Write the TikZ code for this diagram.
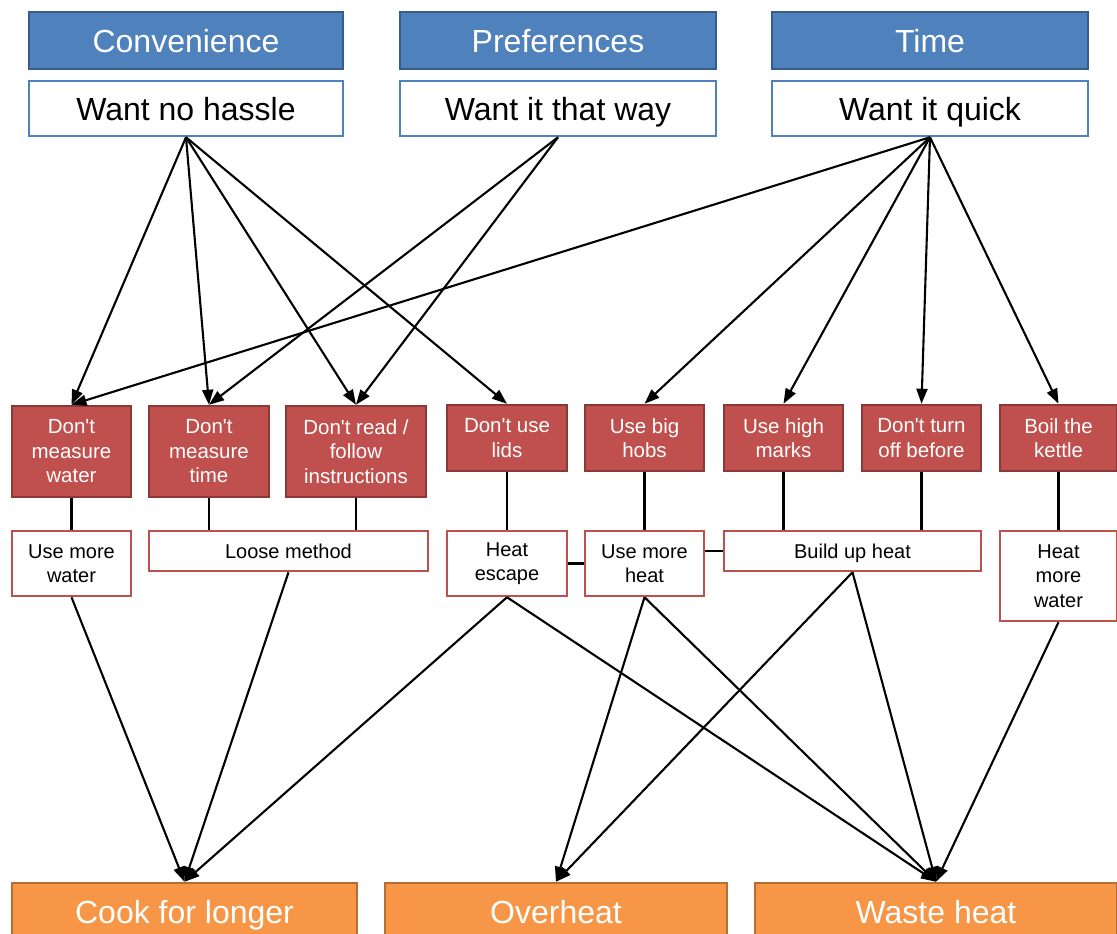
\documentclass[tikz,border=0pt]{standalone}
\usepackage{fontspec}
\setmainfont{Liberation Sans}[Ligatures=TeXOff]
\usetikzlibrary{arrows.meta}

\definecolor{hdrblue}{HTML}{4F81BD}
\definecolor{hdrblueedge}{HTML}{385D8A}
\definecolor{causered}{HTML}{C0504D}
\definecolor{causerededge}{HTML}{8C3836}
\definecolor{effectorange}{HTML}{F79646}
\definecolor{effectorangeedge}{HTML}{B66D31}

\tikzset{
  oneline/.style={text height=23.5pt, text depth=0pt},
  header/.style={draw=hdrblueedge, fill=hdrblue, line width=2.5pt, text=white,
    inner sep=0pt, oneline, font=\fontsize{32}{36}\selectfont},
  motive/.style={draw=hdrblue, fill=white, line width=2.5pt, text=black,
    inner sep=0pt, oneline, font=\fontsize{32}{36}\selectfont},
  habit/.style={draw=causerededge, fill=causered, line width=2.5pt, text=white,
    inner sep=0pt, align=center, minimum width=119pt,
    font=\fontsize{20.5}{24.5}\selectfont},
  result/.style={draw=causered, fill=white, line width=2.5pt, text=black,
    inner sep=0pt, align=center, font=\fontsize{20}{24.5}\selectfont},
  flatresult/.style={result, text height=14.5pt, text depth=0pt},
  outcome/.style={draw=effectorangeedge, fill=effectorange, line width=2.5pt, text=white,
    inner sep=0pt, minimum height=58pt, oneline, font=\fontsize{32}{36}\selectfont},
  leads/.style={line width=2.1pt, -{Triangle[length=15pt,width=11pt]}},
  joins/.style={line width=2.4pt},
}

\begin{document}
\begin{tikzpicture}[x=1pt, y=-1pt]
\clip (0,0) rectangle (1117,934);
\fill[white] (0,0) rectangle (1117,934);

% motivations
\node[header, minimum width=314pt, minimum height=57pt] (conv) at (186,40.5) {Convenience};
\node[header, minimum width=316pt, minimum height=57pt] (pref) at (558,40.5) {Preferences};
\node[header, minimum width=316pt, minimum height=57pt] (time) at (930,40.5) {Time};
\node[motive, minimum width=314pt, minimum height=55pt] (hassle) at (186,108.5) {Want no hassle};
\node[motive, minimum width=316pt, minimum height=55pt] (way) at (558,108.5) {Want it that way};
\node[motive, minimum width=316pt, minimum height=55pt] (quick) at (930,108.5) {Want it quick};

% habits
\node[habit, minimum height=91pt] (mwater) at (71.5,451.5) {Don't\\measure\\water};
\node[habit, minimum width=120pt, minimum height=91pt] (mtime) at (209,451.5) {Don't\\measure\\time};
\node[habit, minimum width=140pt, minimum height=91pt] (read) at (356,451.5) {Don't read /\\follow\\instructions};
\node[habit, minimum width=120pt, minimum height=66pt] (lids) at (507,438) {Don't use\\lids};
\node[habit, minimum height=66pt] (hobs) at (644.5,438) {Use big\\hobs};
\node[habit, minimum height=66pt] (marks) at (783.5,438) {Use high\\marks};
\node[habit, minimum height=66pt] (turnoff) at (921.5,438) {Don't turn\\off before};
\node[habit, minimum width=117pt, minimum height=66pt] (kettle) at (1058.5,438) {Boil the\\kettle};

% immediate results
\node[result, minimum width=119pt, minimum height=65pt] (morewater) at (71.5,563.5) {Use more\\water};
\node[flatresult, minimum width=279pt, minimum height=40pt] (loose) at (288.5,551) {Loose method};
\node[result, minimum width=120pt, minimum height=65pt] (escape) at (507,563.5) {Heat\\escape};
\node[result, minimum width=119pt, minimum height=65pt] (moreheat) at (644.5,563.5) {Use more\\heat};
\node[flatresult, minimum width=257pt, minimum height=40pt] (buildup) at (852.5,551) {Build up heat};
\node[result, minimum width=117pt, minimum height=90pt] (heatwater) at (1058.5,576) {Heat\\more\\water};

% outcomes
\node[outcome, minimum width=345pt] (longer) at (184.5,912) {Cook for longer};
\node[outcome, minimum width=342pt] (overheat) at (556,912) {Overheat};
\node[outcome, minimum width=362pt] (waste) at (936,912) {Waste heat};

% habit to result links
\draw[joins] (mwater.south) -- (morewater.north);
\draw[joins] (mtime.south) -- (mtime.south |- loose.north);
\draw[joins] (read.south) -- (read.south |- loose.north);
\draw[joins] (lids.south) -- (escape.north);
\draw[joins] (hobs.south) -- (moreheat.north);
\draw[joins] (marks.south) -- (marks.south |- buildup.north);
\draw[joins] (turnoff.south) -- (turnoff.south |- buildup.north);
\draw[joins] (kettle.south) -- (heatwater.north);
\draw[joins] (escape.east) -- (moreheat.west);
\draw[joins] (buildup.west) -- (buildup.west -| moreheat.east);

% motivations to habits
\draw[leads] (hassle.south) -- (mwater.north);
\draw[leads] (hassle.south) -- (mtime.north);
\draw[leads] (hassle.south) -- (read.north);
\draw[leads] (hassle.south) -- (lids.north);
\draw[leads] (way.south) -- (mtime.north);
\draw[leads] (way.south) -- (read.north);
\draw[leads] (quick.south) -- (mwater.north);
\draw[leads] (quick.south) -- (hobs.north);
\draw[leads] (quick.south) -- (marks.north);
\draw[leads] (quick.south) -- (turnoff.north);
\draw[leads] (quick.south) -- (kettle.north);

% results to outcomes
\draw[leads] (morewater.south) -- (longer.north);
\draw[leads] (loose.south) -- (longer.north);
\draw[leads] (escape.south) -- (longer.north);
\draw[leads] (escape.south) -- (waste.north);
\draw[leads] (moreheat.south) -- (overheat.north);
\draw[leads] (moreheat.south) -- (waste.north);
\draw[leads] (buildup.south) -- (overheat.north);
\draw[leads] (buildup.south) -- (waste.north);
\draw[leads] (heatwater.south) -- (waste.north);
\end{tikzpicture}
\end{document}
